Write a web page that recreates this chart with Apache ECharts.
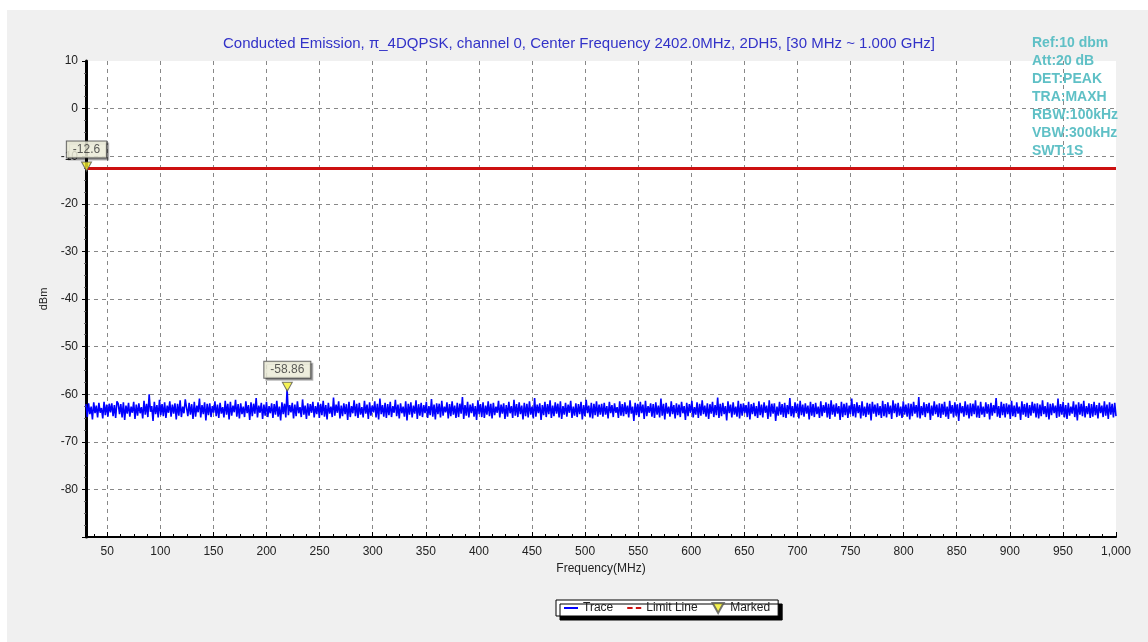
<!DOCTYPE html>
<html>
<head>
<meta charset="utf-8">
<title>Conducted Emission</title>
<script src="https://cdn.jsdelivr.net/npm/echarts@6/dist/echarts.min.js"></script>
<style>
  html, body { margin: 0; padding: 0; background: #fff; }
  #chart { width: 1148px; height: 642px; }
</style>
</head>
<body>
<div id="chart"></div>
<script>
// sweep range (MHz)
const freqStart = 30
const freqStop = 1000

// frequency axis labels
const xTicks = [50, 100, 150, 200, 250, 300, 350, 400, 450, 500, 550, 600, 650, 700, 750, 800, 850, 900, 950, 1000]

// trace readings (dBm), one per sweep point
const traceDbm = [
  -62.1, -64.8, -61.9, -64.2, -62.6, -65.3, -61.7, -64.0, -62.4, -64.9, -61.8, -63.9, -62.9, -65.1, -61.6, -64.4, -62.2, -64.7, -62.0, -63.8,
  -61.9, -64.6, -62.3, -65.0, -61.5, -62.0, -64.2, -62.1, -64.9, -61.7, -65.4, -62.4, -64.1, -61.8, -64.7, -62.6, -63.9, -61.6, -65.2, -62.2,
  -64.5, -61.9, -64.0, -62.7, -65.1, -61.4, -64.3, -62.0, -64.8, -60.0, -63.7, -62.5, -65.6, -61.6, -64.2, -62.3, -64.9, -61.2, -64.4, -62.1,
  -64.6, -61.7, -65.0, -62.4, -63.9, -61.5, -64.7, -62.2, -64.1, -61.9, -65.3, -62.0, -64.5, -61.3, -64.8, -62.6, -64.0, -61.1, -61.4, -64.6,
  -61.8, -64.3, -62.1, -65.2, -61.6, -64.7, -62.4, -63.8, -60.9, -64.9, -62.3, -64.2, -61.7, -65.5, -62.0, -64.4, -61.9, -64.8, -62.5, -63.9,
  -61.5, -64.6, -62.2, -65.0, -61.8, -64.1, -62.7, -64.9, -61.4, -64.3, -62.0, -65.3, -61.6, -64.5, -62.4, -63.8, -61.2, -64.7, -62.1, -65.1,
  -61.9, -64.2, -62.6, -64.8, -61.5, -64.0, -62.3, -65.4, -61.7, -64.6, -62.0, -64.1, -60.8, -64.9, -62.4, -63.9, -61.8, -65.2, -62.2, -64.5,
  -61.6, -64.8, -62.5, -64.0, -61.9, -65.0, -62.1, -64.3, -61.4, -64.7, -62.6, -65.5, -61.7, -64.2, -62.0, -64.9, -58.86, -64.4, -62.3, -63.8,
  -61.8, -65.1, -62.2, -64.6, -61.5, -64.0, -62.7, -64.8, -61.1, -64.3, -62.4, -65.2, -61.9, -64.5, -62.1, -63.9, -61.6, -64.9, -62.5, -64.2,
  -61.7, -65.0, -62.0, -64.4, -61.4, -64.7, -62.3, -65.3, -61.8, -64.1, -62.6, -64.8, -60.7, -64.5, -62.2, -63.9, -61.5, -65.1, -62.4, -64.6,
  -61.9, -64.2, -62.1, -65.4, -61.6, -64.8, -62.5, -64.0, -61.3, -64.6, -62.0, -65.0, -61.8, -64.3, -62.7, -64.9, -61.4, -64.1, -62.2, -65.2,
  -61.7, -64.5, -62.4, -63.8, -61.5, -64.9, -62.0, -65.3, -60.9, -64.2, -62.3, -64.7, -61.8, -65.0, -62.1, -64.4, -61.6, -64.8, -62.5, -63.9,
  -61.2, -64.6, -62.2, -65.1, -61.9, -64.0, -62.6, -64.7, -61.5, -65.5, -62.0, -64.3, -61.7, -64.9, -62.4, -64.1, -61.3, -65.2, -62.1, -64.5,
  -61.8, -64.8, -62.3, -64.0, -61.6, -65.0, -62.5, -64.4, -61.0, -64.7, -62.2, -65.3, -61.9, -64.2, -62.0, -64.9, -61.4, -64.5, -62.6, -63.8,
  -61.7, -65.1, -62.1, -64.6, -61.5, -64.3, -62.4, -65.0, -61.8, -64.8, -62.0, -64.1, -60.6, -65.2, -62.3, -64.5, -61.6, -64.9, -62.2, -64.0,
  -61.9, -64.7, -62.5, -65.4, -61.3, -64.2, -62.1, -64.8, -61.7, -65.0, -62.4, -64.3, -61.5, -64.6, -62.0, -65.1, -61.8, -64.4, -62.6, -63.9,
  -61.4, -64.9, -62.2, -64.1, -61.9, -65.2, -62.3, -64.7, -61.6, -64.0, -62.5, -65.0, -61.2, -64.5, -62.1, -64.8, -61.7, -64.2, -62.4, -65.3,
  -61.8, -64.6, -62.0, -64.9, -61.5, -64.3, -62.6, -65.1, -60.8, -64.7, -62.2, -64.0, -61.9, -65.4, -62.3, -64.4, -61.6, -64.8, -62.1, -64.2,
  -61.3, -65.0, -62.4, -64.6, -61.7, -64.1, -62.0, -64.9, -61.5, -65.2, -62.5, -64.3, -61.8, -64.7, -62.2, -63.9, -61.4, -65.0, -62.6, -64.5,
  -61.9, -64.8, -62.1, -64.2, -61.6, -65.3, -62.3, -64.6, -61.2, -64.0, -62.4, -64.9, -61.8, -65.1, -62.0, -64.4, -61.5, -64.7, -62.2, -64.3,
  -62.0, -64.7, -61.8, -64.3, -62.5, -65.1, -61.6, -64.0, -62.3, -64.8, -61.9, -63.9, -62.7, -65.0, -61.5, -64.5, -62.1, -64.6, -61.7, -64.2,
  -62.4, -64.9, -61.3, -64.1, -62.6, -65.6, -61.8, -64.4, -62.0, -64.8, -61.6, -64.0, -62.2, -65.2, -61.4, -64.6, -62.5, -63.9, -61.9, -64.7,
  -62.1, -65.0, -61.7, -64.3, -62.4, -64.9, -60.9, -64.5, -62.0, -65.3, -61.8, -64.1, -62.6, -64.7, -61.5, -64.2, -62.3, -65.1, -61.9, -64.4,
  -62.2, -64.8, -61.6, -64.0, -62.5, -65.4, -61.8, -64.6, -62.1, -63.9, -61.4, -64.9, -62.7, -64.3, -61.7, -65.0, -62.0, -64.5, -61.3, -64.2,
  -62.4, -64.7, -61.9, -65.2, -62.1, -64.1, -61.6, -64.8, -62.3, -64.4, -60.7, -65.0, -62.0, -64.6, -61.8, -64.2, -62.5, -65.5, -61.5, -64.0,
  -62.2, -64.9, -61.7, -64.3, -62.6, -64.7, -61.4, -65.1, -62.0, -64.5, -61.9, -64.0, -62.3, -64.8, -61.6, -65.3, -62.1, -64.2, -61.8, -64.6,
  -62.5, -65.0, -61.5, -64.4, -62.2, -64.9, -61.7, -63.9, -62.4, -65.2, -61.3, -64.7, -62.0, -64.1, -61.9, -65.6, -62.6, -64.5, -61.6, -64.3,
  -62.1, -64.8, -61.8, -65.0, -62.3, -64.2, -60.8, -64.6, -62.5, -64.9, -61.7, -64.0, -62.0, -65.1, -61.4, -64.4, -62.2, -64.7, -61.9, -64.1,
  -62.4, -65.3, -61.6, -64.5, -62.1, -64.8, -61.8, -64.2, -62.6, -65.0, -61.5, -64.6, -62.3, -63.9, -61.7, -64.9, -62.0, -65.2, -61.3, -64.3,
  -62.2, -64.7, -61.9, -64.1, -62.5, -65.4, -61.6, -64.8, -62.0, -64.4, -61.8, -65.0, -62.4, -64.2, -60.9, -64.6, -62.1, -64.9, -61.7, -64.0,
  -62.3, -65.1, -61.5, -64.5, -62.6, -64.8, -61.8, -64.3, -62.0, -65.5, -61.6, -64.1, -62.2, -64.7, -61.9, -64.4, -62.5, -65.0, -61.4, -64.6,
  -62.1, -64.9, -61.7, -64.2, -62.4, -65.2, -61.3, -64.0, -62.0, -64.8, -61.8, -64.5, -62.6, -65.0, -61.5, -64.3, -62.2, -64.7, -61.9, -65.3,
  -62.0, -64.6, -61.6, -64.1, -62.3, -64.9, -60.6, -65.1, -62.5, -64.4, -61.7, -64.8, -62.1, -64.0, -61.8, -65.4, -62.4, -64.5, -61.5, -64.2,
  -62.2, -64.8, -61.9, -65.0, -62.0, -64.3, -61.6, -64.7, -62.6, -65.2, -61.4, -64.1, -62.3, -64.9, -61.7, -64.5, -62.1, -65.6, -61.8, -64.0,
  -62.5, -64.7, -61.5, -64.4, -62.2, -65.1, -61.9, -64.6, -62.0, -64.2, -61.3, -64.9, -62.4, -65.0, -61.6, -64.3, -62.6, -64.8, -61.7, -64.1,
  -62.1, -65.3, -61.8, -64.5, -62.3, -64.0, -60.8, -64.7, -62.5, -65.0, -61.6, -64.4, -62.0, -64.9, -61.9, -64.2, -62.2, -65.2, -61.4, -64.6,
  -62.4, -64.8, -61.7, -64.1, -62.6, -65.4, -61.5, -64.3, -62.1, -64.7, -61.8, -65.0, -62.3, -64.5, -61.6, -64.0, -62.0, -64.9, -61.9, -65.1,
  -62.2, -64.6, -61.3, -64.2, -62.5, -64.8, -61.7, -65.3, -62.0, -64.4, -61.9, -64.0, -62.4, -65.0, -60.9, -64.7, -62.1, -64.3, -61.6, -64.9,
  -62.3, -65.2, -61.8, -64.5, -62.6, -64.1, -61.5, -64.8, -62.2, -65.5, -61.7, -64.3, -62.0, -64.6, -61.4, -64.9, -62.5, -64.2, -61.9, -65.0,
  -62.1, -64.7, -61.6, -64.4, -62.3, -65.1, -61.8, -64.0, -62.4, -64.8, -61.5, -64.5, -62.2, -65.2, -61.7, -64.3, -62.0, -64.9, -61.8, -64.6
]

// limit line (dBm)
const limitDbm = -12.6

// marker points
const markFreq = [30.5, 219.6]
const markDbm = [-12.6, -58.86]

// instrument settings shown top right
const infoLines = ['Ref:10 dbm', 'Att:20 dB', 'DET:PEAK', 'TRA:MAXH', 'RBW:100kHz', 'VBW:300kHz', 'SWT:1S']

const fontFamily = 'Arial, "Liberation Sans", sans-serif'

const traceData = traceDbm.map((v, i) => [freqStart + i * (freqStop - freqStart) / (traceDbm.length - 1), v])
const limitData = [[freqStart, limitDbm], [freqStop, limitDbm]]
const markData = markFreq.map((f, i) => [f, markDbm[i]])

// small ticks between the labelled ones
const xMinorTicks = []
xTicks.forEach(v => {
  xMinorTicks.push(v - 37.5, v - 25, v - 12.5)
})

const chart = echarts.init(document.getElementById('chart'))

const option = {
  animation: false,
  backgroundColor: 'transparent',
  title: {
    text: 'Conducted Emission, π_4DQPSK, channel 0, Center Frequency 2402.0MHz, 2DH5, [30 MHz ~ 1.000 GHz]',
    left: 218,
    top: 31,
    textStyle: { color: '#3232c8', fontSize: 15, fontWeight: 'normal', fontFamily }
  },
  graphic: [
    {
      type: 'rect',
      z: -10,
      silent: true,
      shape: { x: 7, y: 10, width: 1141, height: 632 },
      style: { fill: '#f0f0f0' }
    },
    {
      type: 'text',
      left: 1032,
      top: 34,
      z: 100,
      style: {
        text: infoLines.join('\n'),
        fill: '#5fc0c6',
        font: 'bold 14px ' + fontFamily,
        lineHeight: 18
      }
    }
  ],
  legend: {
    left: 556,
    top: 600,
    backgroundColor: '#fff',
    borderColor: '#000',
    borderWidth: 1,
    shadowColor: '#000',
    shadowOffsetX: 4,
    shadowOffsetY: 4,
    shadowBlur: 0,
    padding: [2, 8],
    itemGap: 14,
    itemWidth: 14,
    itemHeight: 10,
    textStyle: { fontSize: 12, color: '#222', fontFamily },
    data: [
      { name: 'Trace', icon: 'path://M0,0H14V2H0Z' },
      { name: 'Limit Line', icon: 'path://M0,0H5V2H0Z M8,0H13V2H8Z' },
      { name: 'Marked', icon: 'path://M0,0L10,0L5,9Z' }
    ]
  },
  grid: {
    left: 86,
    right: 32,
    top: 61,
    bottom: 105,
    show: true,
    backgroundColor: '#fff',
    borderWidth: 0
  },
  xAxis: [
    {
      type: 'value',
      min: freqStart,
      max: freqStop,
      name: 'Frequency(MHz)',
      nameLocation: 'middle',
      nameGap: 26,
      nameTextStyle: { color: '#222', fontSize: 12, fontFamily },
      axisLine: { onZero: false, lineStyle: { color: '#000', width: 2 } },
      axisTick: { inside: true, length: 5, customValues: xTicks, lineStyle: { color: '#000' } },
      axisLabel: { customValues: xTicks, color: '#222', fontSize: 12, margin: 9, fontFamily },
      splitLine: {
        show: true,
        showMaxLine: false,
        lineStyle: { color: '#888', type: [4, 4], width: 1 }
      }
    },
    {
      // minor ticks only
      type: 'value',
      position: 'bottom',
      min: freqStart,
      max: freqStop,
      axisLine: { show: false, onZero: false },
      axisTick: { inside: true, length: 3, customValues: xMinorTicks, lineStyle: { color: '#000' } },
      axisLabel: { show: false },
      splitLine: { show: false }
    }
  ],
  yAxis: {
    type: 'value',
    min: -90,
    max: 10,
    interval: 10,
    name: 'dBm',
    nameLocation: 'middle',
    nameGap: 32,
    nameTextStyle: { color: '#222', fontSize: 11, fontFamily },
    axisLine: { show: true, onZero: false, lineStyle: { color: '#000', width: 3 } },
    axisTick: { show: true, length: 4, lineStyle: { color: '#000' } },
    minorTick: { show: true, splitNumber: 4, length: 2, lineStyle: { color: '#666' } },
    axisLabel: {
      color: '#222',
      fontSize: 12,
      margin: 8,
      fontFamily,
      formatter: v => (v === -90 ? '' : String(v))
    },
    splitLine: {
      show: true,
      showMaxLine: false,
      lineStyle: { color: '#888', type: [4, 4], width: 1 }
    }
  },
  series: [
    {
      name: 'Trace',
      type: 'line',
      data: traceData,
      symbol: 'none',
      sampling: false,
      color: '#0000ff',
      lineStyle: { color: '#0000ff', width: 1.6 },
      z: 3
    },
    {
      name: 'Limit Line',
      type: 'line',
      data: limitData,
      symbol: 'none',
      color: '#cc1010',
      lineStyle: { color: '#cc1010', width: 3 },
      z: 4
    },
    {
      name: 'Marked',
      type: 'scatter',
      data: markData,
      symbol: 'triangle',
      symbolRotate: 180,
      symbolSize: [10, 9],
      symbolOffset: [0, -2],
      itemStyle: { color: '#f2ef2a', borderColor: '#555', borderWidth: 1 },
      label: {
        show: true,
        position: 'top',
        distance: 4,
        formatter: p => String(p.value[1]),
        color: '#333',
        fontSize: 12,
        fontFamily,
        backgroundColor: '#fbfbe6',
        borderColor: '#444',
        borderWidth: 1,
        padding: [2, 6],
        shadowColor: 'rgba(0,0,0,0.35)',
        shadowOffsetX: 2,
        shadowOffsetY: 2,
        shadowBlur: 0
      },
      z: 10
    }
  ]
}

chart.setOption(option)
</script>
</body>
</html>
